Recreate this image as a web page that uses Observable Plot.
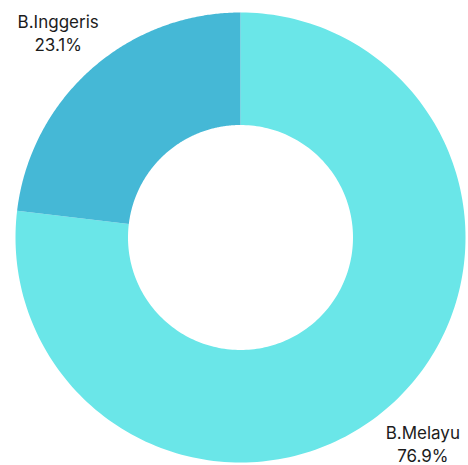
<!DOCTYPE html>
<html>
<head>
<meta charset="utf-8">
<script src="https://cdn.jsdelivr.net/npm/d3@7"></script>
<script src="https://cdn.jsdelivr.net/npm/@observablehq/plot@0.6"></script>
<style>
  html, body { margin: 0; padding: 0; background: #fff; }
  #chart { width: 468px; height: 465px; }
</style>
</head>
<body>
<div id="chart"></div>
<script>
const categories = ["B.Melayu", "B.Inggeris"];
const values = [76.9, 23.1];
const labels = ["76.9%", "23.1%"];
const colors = ["#6ae6e8", "#45b8d6"];

const W = 468, H = 465;
const cx = 240, cy = 237, R = 225;
const innerRatio = 0.5;
const labelR = 1.221;

const pie = d3.pie().sort(null).value(d => d.value);
const arcs = pie(categories.map((c, i) => ({category: c, value: values[i], label: labels[i], color: colors[i]})));

function pt(r, a) { return {x: r * Math.sin(a), y: r * Math.cos(a)}; }

const slices = arcs.map(a => {
  const n = 200;
  const pts = [];
  for (let k = 0; k <= n; k++) {
    const t = a.startAngle + (a.endAngle - a.startAngle) * k / n;
    pts.push({...pt(1, t), cat: a.data.category});
  }
  for (let k = n; k >= 0; k--) {
    const t = a.startAngle + (a.endAngle - a.startAngle) * k / n;
    pts.push({...pt(innerRatio, t), cat: a.data.category});
  }
  return {pts, color: a.data.color};
});

const labelData = arcs.map(a => {
  const mid = (a.startAngle + a.endAngle) / 2;
  return {...pt(labelR, mid), text: a.data.category + "\n" + a.data.label};
});

const plot = Plot.plot({
  width: W,
  height: H,
  margin: 0,
  x: {domain: [-cx / R, (W - cx) / R], axis: null},
  y: {domain: [-(H - cy) / R, cy / R], axis: null},
  style: {fontFamily: "Inter, sans-serif", background: "#fff"},
  marks: [
    ...slices.map(s => Plot.line(s.pts, {x: "x", y: "y", fill: s.color, stroke: "none", curve: "linear-closed"})),
    Plot.text(labelData, {x: "x", y: "y", text: "text", fontSize: 17, lineHeight: 1.37, fill: "#1c1c1c", fontWeight: 400, textAnchor: "middle"})
  ]
});
document.getElementById("chart").appendChild(plot);
</script>
</body>
</html>
